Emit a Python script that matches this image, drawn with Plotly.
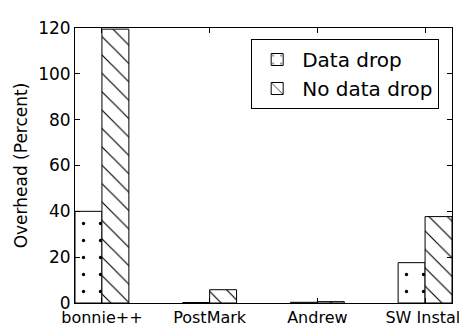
import plotly.graph_objects as go

categories = ["bonnie++", "PostMark", "Andrew", "SW Install"]
data_drop = [40.0, 0.2, 0.3, 17.6]
no_data_drop = [119.5, 5.8, 0.6, 37.7]
y_ticks = [0, 20, 40, 60, 80, 100, 120]

xpos = list(range(len(categories)))
w = 0.25

fig = go.Figure()
fig.add_trace(go.Bar(
    x=[p - w / 2 for p in xpos], y=data_drop, width=w, name="Data drop",
    marker=dict(color="white", line=dict(color="black", width=1),
                pattern=dict(shape=".", fgcolor="black", bgcolor="white", fgopacity=1,
                             size=17, solidity=0.03)),
))
fig.add_trace(go.Bar(
    x=[p + w / 2 for p in xpos], y=no_data_drop, width=w, name="No data drop",
    marker=dict(color="white", line=dict(color="black", width=1),
                pattern=dict(shape="\\", fgcolor="black", bgcolor="white", fgopacity=1,
                             size=13, solidity=0.09)),
))

font = "DejaVu Sans"
fig.update_layout(
    width=467, height=329,
    margin=dict(l=67, r=18, t=10, b=24),
    plot_bgcolor="white", paper_bgcolor="white",
    barmode="overlay",
    font=dict(family=font, size=17, color="black"),
    showlegend=True,
    legend=dict(x=0.966, y=0.96, xanchor="right", yanchor="top",
                bordercolor="black", borderwidth=1, bgcolor="white",
                font=dict(size=20, family=font), tracegroupgap=0, itemwidth=40),
    xaxis=dict(range=[-w, 3 + w], tickvals=xpos, ticktext=categories,
               showline=True, linecolor="black", linewidth=1, mirror="ticks",
               ticks="inside", ticklen=5, tickcolor="black", showgrid=False, zeroline=False,
               tickfont=dict(size=16), ticklabeloverflow="allow"),
    yaxis=dict(range=[0, 120], tickvals=y_ticks,
               showline=True, linecolor="black", linewidth=1, mirror="ticks",
               ticks="inside", ticklen=5, tickcolor="black", showgrid=False, zeroline=False,
               tickfont=dict(size=17),
               title=dict(text="Overhead (Percent)", font=dict(size=17), standoff=6)),
)

fig.write_html("out.html")
